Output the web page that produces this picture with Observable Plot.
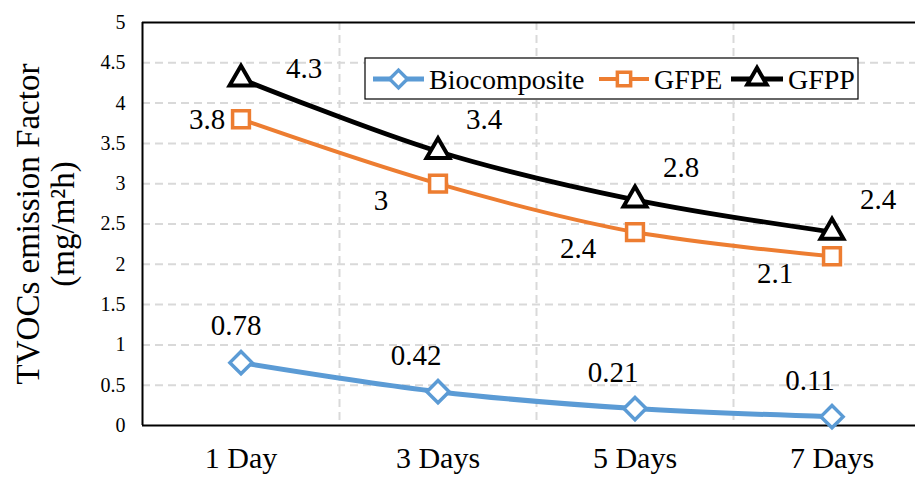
<!DOCTYPE html>
<html>
<head>
<meta charset="utf-8">
<script src="https://cdn.jsdelivr.net/npm/d3@7"></script>
<script src="https://cdn.jsdelivr.net/npm/@observablehq/plot@0.6"></script>
<style>
  html, body { margin: 0; padding: 0; background: #fff; }
  #chart { width: 915px; height: 479px; }
  #chart svg, #chart svg text { font-family: 'Times New Roman', 'Liberation Serif', serif !important; }
</style>
</head>
<body>
<div id="chart"></div>
<script>
// ---- data ----
const days = [1, 3, 5, 7];
const dayLabels = ["1 Day", "3 Days", "5 Days", "7 Days"];
const seriesNames = ["Biocomposite", "GFPE", "GFPP"];
const biocomposite = [0.78, 0.42, 0.21, 0.11];
const gfpe = [3.8, 3.0, 2.4, 2.1];
const gfpp = [4.3, 3.4, 2.8, 2.4];
const yTicks = [0, 0.5, 1, 1.5, 2, 2.5, 3, 3.5, 4, 4.5, 5];
const xBoundaries = [2, 4, 6];
const yTitle = "TVOCs emission Factor\n(mg/m²h)";

// ---- build table ----
const valuesBySeries = { Biocomposite: biocomposite, GFPE: gfpe, GFPP: gfpp };
const rows = seriesNames.flatMap(s => days.map((d, i) => ({ series: s, day: d, value: valuesBySeries[s][i], i })));

const colors = { Biocomposite: "#5B9BD5", GFPE: "#ED7D31", GFPP: "#000000" };
const font = "'Times New Roman', 'Liberation Serif', serif";

const lineMark = (s, w) => Plot.line(rows.filter(d => d.series === s), {
  x: "day", y: "value", stroke: colors[s], strokeWidth: w, curve: "catmull-rom"
});
const dotMark = (s, symbol, r, sw) => Plot.dot(rows.filter(d => d.series === s), {
  x: "day", y: "value", symbol: () => symbol, r, fill: "white", stroke: colors[s], strokeWidth: sw
});
const labelMark = (s, first, dx, dy) => Plot.text(rows.filter(d => d.series === s && (first ? d.i === 0 : d.i > 0)), {
  x: "day", y: "value", text: d => String(d.value), dx, dy, fontSize: 29, fill: "black", fontFamily: font
});

const gridStyle = { stroke: "#d9d9d9", strokeWidth: 2, strokeDasharray: "8,5" };

const chart = Plot.plot({
  width: 915,
  height: 479,
  marginLeft: 142,
  marginRight: 0,
  marginTop: 22,
  marginBottom: 54,
  style: { fontFamily: font, color: "black", background: "white" },
  x: { domain: [0, 8], range: [142, 930] },
  y: { domain: [0, 5] },
  marks: [
    Plot.ruleY(yTicks.filter(v => v > 0 && v < 5), gridStyle),
    Plot.ruleX(xBoundaries, gridStyle),
    Plot.ruleX([0], { stroke: "black", strokeWidth: 2 }),
    Plot.ruleY([0, 5], { stroke: "black", strokeWidth: 2 }),
    Plot.axisY({ ticks: yTicks, tickFormat: d => String(d), tickSize: 0, tickPadding: 17, fontSize: 20, label: null, fontFamily: font }),
    Plot.axisX({ ticks: days, tickFormat: d => dayLabels[days.indexOf(d)], tickSize: 0, tickPadding: 21, fontSize: 30, label: null, fontFamily: font }),
    Plot.text([yTitle], { frameAnchor: "left", textAnchor: "middle", lineAnchor: "middle", dx: -97, rotate: -90, fontSize: 33, lineHeight: 1.06, fill: "black", fontFamily: font }),
    lineMark("Biocomposite", 5),
    lineMark("GFPE", 4),
    lineMark("GFPP", 4.8),
    dotMark("Biocomposite", "diamond2", 10, 3.5),
    dotMark("GFPE", "square", 9.5, 3.5),
    dotMark("GFPP", "triangle", 8.5, 4),
    labelMark("Biocomposite", true, -5, -37),
    labelMark("Biocomposite", false, -22, -36),
    labelMark("GFPE", true, -34, 0),
    labelMark("GFPE", false, -57, 17),
    labelMark("GFPP", true, 63, -10),
    labelMark("GFPP", false, 46, -32)
  ]
});

// ---- legend (drawn into the same svg) ----
const svg = d3.select(chart);
const lg = svg.append("g").attr("class", "legend");
lg.append("rect").attr("x", 365).attr("y", 58).attr("width", 493).attr("height", 41)
  .attr("fill", "white").attr("stroke", "black").attr("stroke-width", 1.2);
const legendItems = [
  { s: "Biocomposite", x0: 373, x1: 424, sym: d3.symbolDiamond2, size: Math.PI * 64, w: 5, sw: 3.5 },
  { s: "GFPE", x0: 599, x1: 649, sym: d3.symbolSquare, size: Math.PI * 56, w: 4, sw: 3.5 },
  { s: "GFPP", x0: 731, x1: 783, sym: d3.symbolTriangle, size: Math.PI * 52, w: 4.8, sw: 4 }
];
const ly = 79;
for (const it of legendItems) {
  lg.append("line").attr("x1", it.x0).attr("x2", it.x1).attr("y1", ly).attr("y2", ly)
    .attr("stroke", colors[it.s]).attr("stroke-width", it.w);
  lg.append("path").attr("d", d3.symbol(it.sym, it.size)())
    .attr("transform", `translate(${(it.x0 + it.x1) / 2},${ly})`)
    .attr("fill", "white").attr("stroke", colors[it.s]).attr("stroke-width", it.sw);
  lg.append("text").attr("x", it.x1 + 5).attr("y", ly).attr("dy", "0.34em")
    .attr("text-anchor", "start")
    .attr("font-size", 28).attr("font-family", font).attr("fill", "black").text(it.s);
}

document.getElementById("chart").appendChild(chart);
</script>
</body>
</html>
